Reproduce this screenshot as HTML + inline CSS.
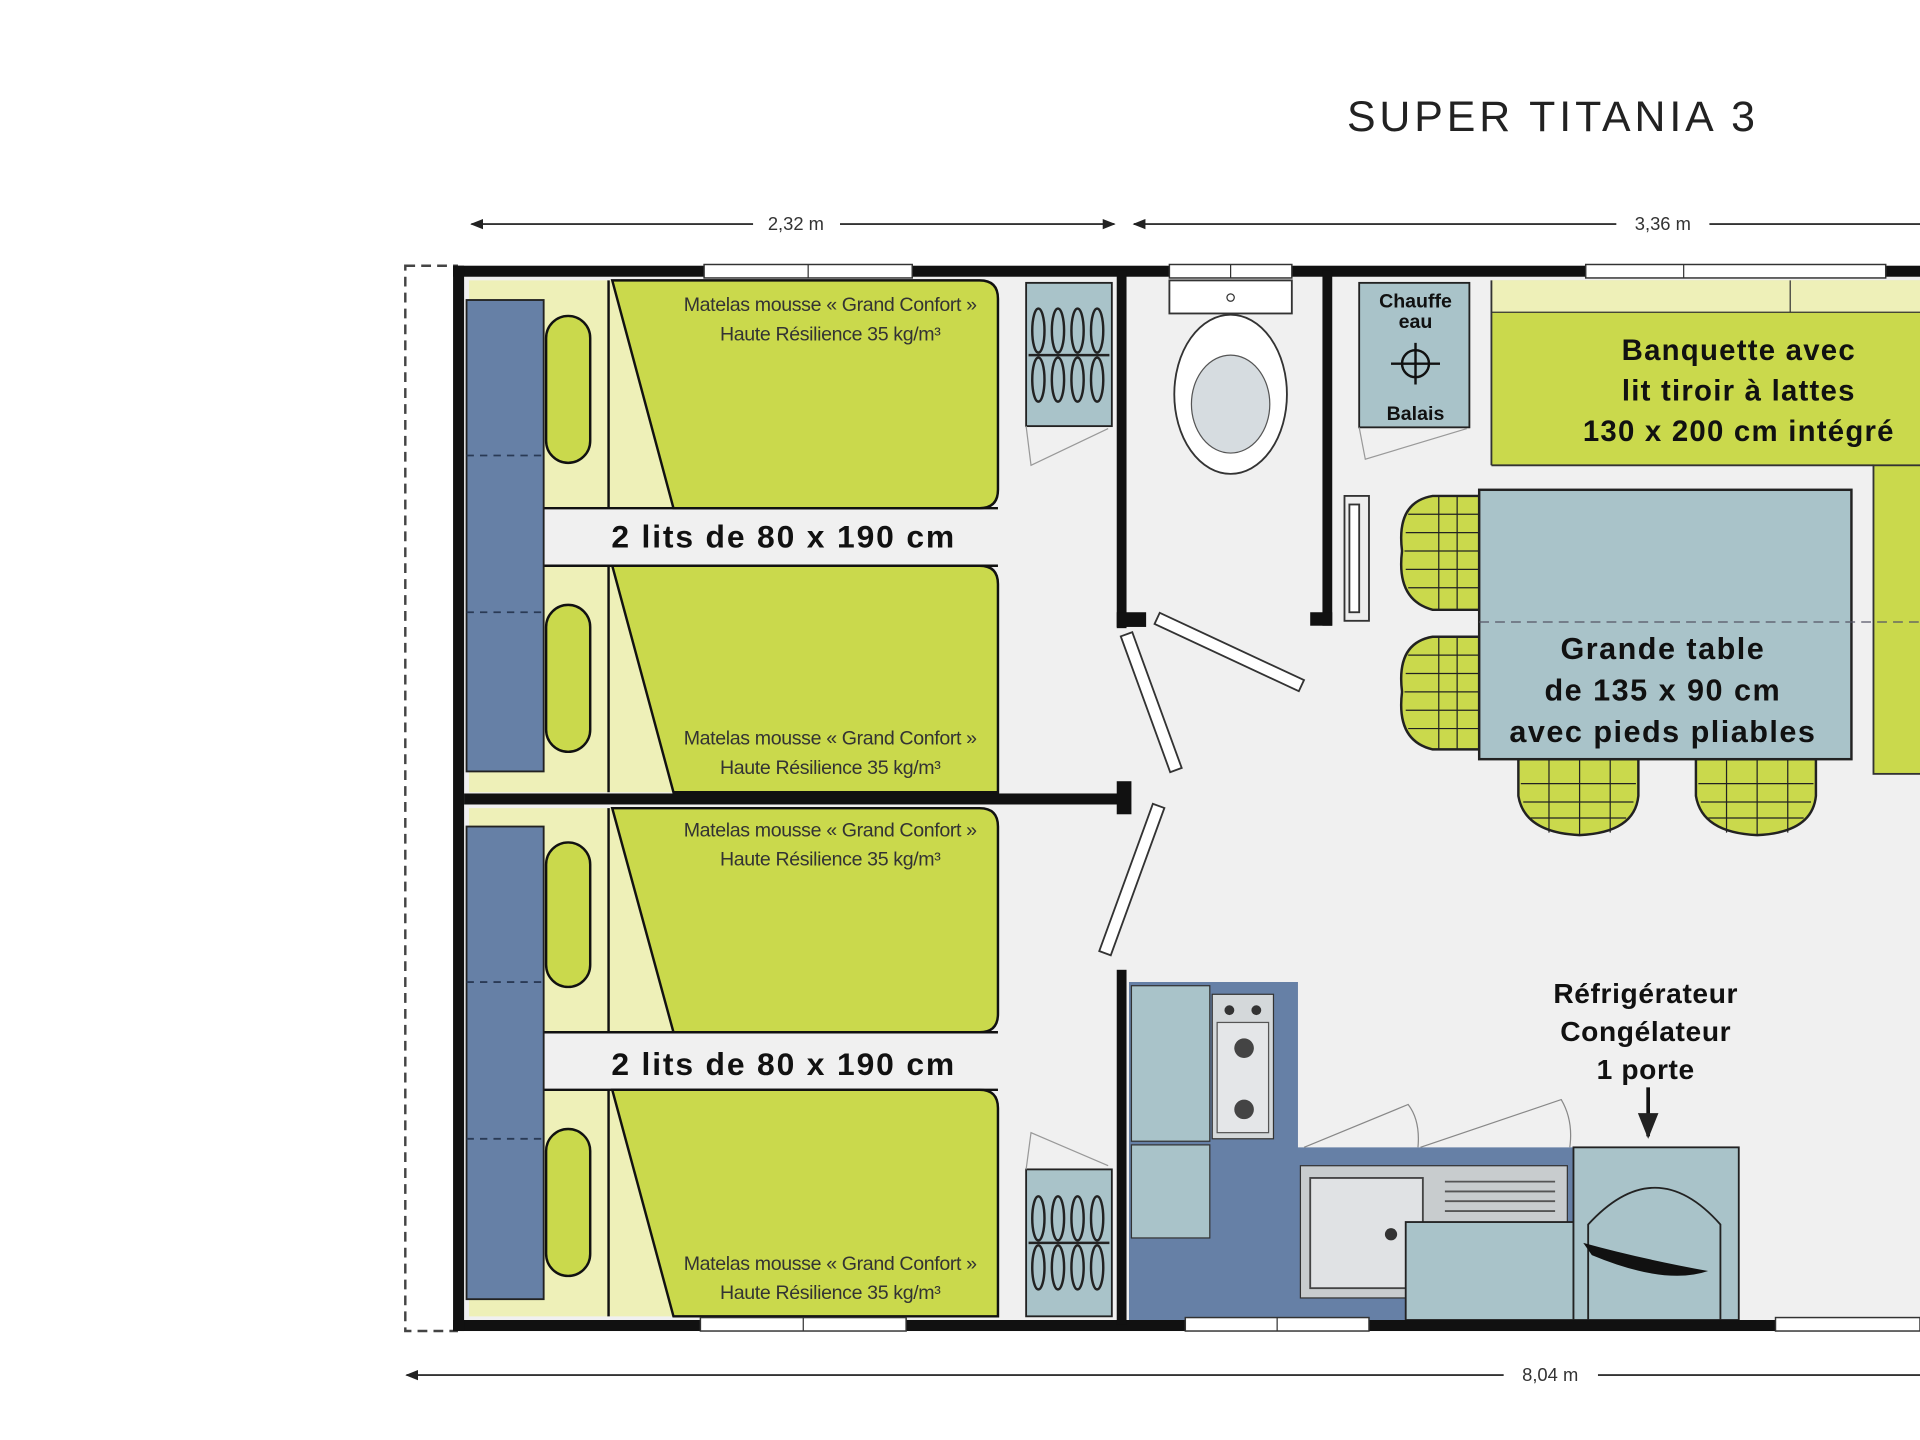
<!DOCTYPE html>
<html><head><meta charset="utf-8"><style>html,body{margin:0;padding:0;background:#fff}svg{display:block}</style></head><body>
<svg width="1920" height="1440" viewBox="0 0 1568 1176" xmlns="http://www.w3.org/2000/svg" font-family="Liberation Sans, sans-serif">
<defs>
<marker id="ar" viewBox="0 0 10 10" refX="9" refY="5" markerWidth="7" markerHeight="7" orient="auto-start-reverse"><path d="M0,1 L10,5 L0,9 Z" fill="#222"/></marker>
</defs>
<rect width="1568" height="1176" fill="#fff"/>
<text x="1100" y="107" font-size="35" fill="#222" letter-spacing="3.2">SUPER TITANIA 3</text>
<g stroke="#333" stroke-width="1.5">
<line x1="385" y1="183" x2="615" y2="183" marker-start="url(#ar)"/>
<line x1="686" y1="183" x2="910" y2="183" marker-end="url(#ar)"/>
<line x1="926" y1="183" x2="1320" y2="183" marker-start="url(#ar)"/>
<line x1="1396" y1="183" x2="1568" y2="183"/>
<line x1="332" y1="1123" x2="1228" y2="1123" marker-start="url(#ar)"/>
<line x1="1305" y1="1123" x2="1568" y2="1123"/>
</g>
<text x="650" y="188" font-size="15" text-anchor="middle" fill="#333">2,32 m</text>
<text x="1358" y="188" font-size="15" text-anchor="middle" fill="#333">3,36 m</text>
<text x="1266" y="1128" font-size="15" text-anchor="middle" fill="#333">8,04 m</text>
<rect x="331" y="217" width="42" height="870" fill="none" stroke="#444" stroke-width="2" stroke-dasharray="8,5"/>
<rect x="374" y="221" width="1194" height="861" fill="#f0f0f0"/>
<g>
<path d="M383 229 H800 Q815 229 815 244 V400 Q815 415 800 415 H383 Z" fill="#eef0b8"/>
<rect x="446" y="258" width="36" height="120" rx="18" fill="#cad94c" stroke="#111" stroke-width="2"/>
<line x1="497" y1="229" x2="497" y2="415" stroke="#111" stroke-width="2"/>
<path d="M500 229 H800 Q815 229 815 244 V400 Q815 415 800 415 H550 Z" fill="#cad94c" stroke="#111" stroke-width="2"/>
<line x1="444" y1="415" x2="815" y2="415" stroke="#111" stroke-width="2"/>
</g>
<g>
<path d="M383 462 H800 Q815 462 815 477 V647 H383 Z" fill="#eef0b8"/>
<rect x="446" y="494" width="36" height="120" rx="18" fill="#cad94c" stroke="#111" stroke-width="2"/>
<line x1="497" y1="462" x2="497" y2="647" stroke="#111" stroke-width="2"/>
<path d="M500 462 H800 Q815 462 815 477 V647 H550 Z" fill="#cad94c" stroke="#111" stroke-width="2"/>
<line x1="444" y1="462" x2="815" y2="462" stroke="#111" stroke-width="2"/>
</g>
<g>
<path d="M383 660 H800 Q815 660 815 675 V828 Q815 843 800 843 H383 Z" fill="#eef0b8"/>
<rect x="446" y="688" width="36" height="118" rx="18" fill="#cad94c" stroke="#111" stroke-width="2"/>
<line x1="497" y1="660" x2="497" y2="843" stroke="#111" stroke-width="2"/>
<path d="M500 660 H800 Q815 660 815 675 V828 Q815 843 800 843 H550 Z" fill="#cad94c" stroke="#111" stroke-width="2"/>
<line x1="444" y1="843" x2="815" y2="843" stroke="#111" stroke-width="2"/>
</g>
<g>
<path d="M383 890 H800 Q815 890 815 905 V1075 H383 Z" fill="#eef0b8"/>
<rect x="446" y="922" width="36" height="120" rx="18" fill="#cad94c" stroke="#111" stroke-width="2"/>
<line x1="497" y1="890" x2="497" y2="1075" stroke="#111" stroke-width="2"/>
<path d="M500 890 H800 Q815 890 815 905 V1075 H550 Z" fill="#cad94c" stroke="#111" stroke-width="2"/>
<line x1="444" y1="890" x2="815" y2="890" stroke="#111" stroke-width="2"/>
</g>
<rect x="381" y="245" width="63" height="385" fill="#6680a6" stroke="#222" stroke-width="1.5"/>
<rect x="381" y="675" width="63" height="386" fill="#6680a6" stroke="#222" stroke-width="1.5"/>
<g stroke="#2a3a55" stroke-width="1.5" stroke-dasharray="6,5">
<line x1="381" y1="372" x2="444" y2="372"/><line x1="381" y1="500" x2="444" y2="500"/>
<line x1="381" y1="802" x2="444" y2="802"/><line x1="381" y1="930" x2="444" y2="930"/>
</g>
<g font-size="16" fill="#333" text-anchor="middle" letter-spacing="-0.3">
<text x="678" y="254">Matelas mousse « Grand Confort »</text><text x="678" y="278">Haute Résilience 35 kg/m³</text>
<text x="678" y="608">Matelas mousse « Grand Confort »</text><text x="678" y="632">Haute Résilience 35 kg/m³</text>
<text x="678" y="683">Matelas mousse « Grand Confort »</text><text x="678" y="707">Haute Résilience 35 kg/m³</text>
<text x="678" y="1037">Matelas mousse « Grand Confort »</text><text x="678" y="1061">Haute Résilience 35 kg/m³</text>
</g>
<g font-size="26" font-weight="bold" fill="#111" text-anchor="middle" letter-spacing="1.5">
<text x="640" y="447">2 lits de 80 x 190 cm</text>
<text x="640" y="878">2 lits de 80 x 190 cm</text>
</g>
<g>
<rect x="838" y="231" width="70" height="117" fill="#a9c3c9" stroke="#222" stroke-width="1.5"/>
<path d="M838 348 L842 380 L905 350" fill="none" stroke="#999" stroke-width="1"/>
<rect x="838" y="955" width="70" height="120" fill="#a9c3c9" stroke="#222" stroke-width="1.5"/>
<path d="M838 955 L842 925 L905 952" fill="none" stroke="#999" stroke-width="1"/>
<g fill="none" stroke="#222" stroke-width="2">
<line x1="840" y1="290" x2="906" y2="290"/>
<ellipse cx="848" cy="270" rx="5" ry="18"/><ellipse cx="864" cy="270" rx="5" ry="18"/><ellipse cx="880" cy="270" rx="5" ry="18"/><ellipse cx="896" cy="270" rx="5" ry="18"/>
<ellipse cx="848" cy="310" rx="5" ry="18"/><ellipse cx="864" cy="310" rx="5" ry="18"/><ellipse cx="880" cy="310" rx="5" ry="18"/><ellipse cx="896" cy="310" rx="5" ry="18"/>
<line x1="840" y1="1015" x2="906" y2="1015"/>
<ellipse cx="848" cy="995" rx="5" ry="18"/><ellipse cx="864" cy="995" rx="5" ry="18"/><ellipse cx="880" cy="995" rx="5" ry="18"/><ellipse cx="896" cy="995" rx="5" ry="18"/>
<ellipse cx="848" cy="1035" rx="5" ry="18"/><ellipse cx="864" cy="1035" rx="5" ry="18"/><ellipse cx="880" cy="1035" rx="5" ry="18"/><ellipse cx="896" cy="1035" rx="5" ry="18"/>
</g></g>
<rect x="955" y="229" width="100" height="27" fill="#fff" stroke="#333" stroke-width="1.5"/>
<circle cx="1005" cy="243" r="3" fill="none" stroke="#333"/>
<ellipse cx="1005" cy="322" rx="46" ry="65" fill="#fff" stroke="#333" stroke-width="1.5"/>
<ellipse cx="1005" cy="330" rx="32" ry="40" fill="#d6dce0" stroke="#555" stroke-width="1"/>
<rect x="1110" y="231" width="90" height="118" fill="#a9c3c9" stroke="#222" stroke-width="1.5"/>
<path d="M1110 349 L1115 375 L1198 350" fill="none" stroke="#999" stroke-width="1"/>
<text x="1156" y="251" font-size="16" font-weight="bold" text-anchor="middle" fill="#111">Chauffe</text>
<text x="1156" y="268" font-size="16" font-weight="bold" text-anchor="middle" fill="#111">eau</text>
<text x="1156" y="343" font-size="16" font-weight="bold" text-anchor="middle" fill="#111">Balais</text>
<circle cx="1156" cy="297" r="11" fill="none" stroke="#111" stroke-width="2"/>
<line x1="1136" y1="297" x2="1176" y2="297" stroke="#111" stroke-width="2"/><line x1="1156" y1="280" x2="1156" y2="314" stroke="#111" stroke-width="2"/>
<rect x="1218" y="229" width="360" height="151" fill="#cad94c"/>
<rect x="1218" y="229" width="360" height="26" fill="#eef0b8"/>
<line x1="1218" y1="255" x2="1568" y2="255" stroke="#333" stroke-width="1"/>
<line x1="1462" y1="229" x2="1462" y2="255" stroke="#333" stroke-width="1"/>
<line x1="1218" y1="229" x2="1218" y2="380" stroke="#333" stroke-width="1.5"/>
<line x1="1218" y1="380" x2="1530" y2="380" stroke="#333" stroke-width="1.5"/>
<rect x="1530" y="380" width="45" height="252" fill="#cad94c" stroke="#333" stroke-width="1.5"/>
<g font-size="24" font-weight="bold" fill="#111" text-anchor="middle" letter-spacing="1">
<text x="1420" y="294">Banquette avec</text><text x="1420" y="327">lit tiroir à lattes</text><text x="1420" y="360">130 x 200 cm intégré</text>
</g>
<g fill="#cad94c" stroke="#222" stroke-width="2">
<path d="M1208 405 H1170 Q1140 410 1145 450 Q1140 490 1170 498 H1208 Z"/>
<path d="M1208 520 H1170 Q1140 525 1145 565 Q1140 605 1170 612 H1208 Z"/>
<path d="M1240 620 V650 Q1245 680 1290 682 Q1335 680 1338 650 V620 Z"/>
<path d="M1385 620 V650 Q1390 680 1435 682 Q1480 680 1483 650 V620 Z"/>
</g>
<g stroke="#222" stroke-width="1" fill="none">
<path d="M1150 420 H1208 M1148 435 H1208 M1147 450 H1208 M1148 465 H1208 M1150 480 H1208 M1175 405 V498 M1190 405 V498"/>
<path d="M1150 535 H1208 M1148 550 H1208 M1147 565 H1208 M1148 580 H1208 M1150 595 H1208 M1175 520 V612 M1190 520 V612"/>
<path d="M1242 640 H1336 M1244 655 H1334 M1250 668 H1328 M1265 620 V680 M1290 620 V682 M1315 620 V680"/>
<path d="M1387 640 H1481 M1389 655 H1479 M1395 668 H1473 M1410 620 V680 M1435 620 V682 M1460 620 V680"/>
</g>
<rect x="1208" y="400" width="304" height="220" fill="#a9c3c9" stroke="#222" stroke-width="2"/>
<line x1="1208" y1="508" x2="1568" y2="508" stroke="#556" stroke-width="1" stroke-dasharray="8,5"/>
<g font-size="25" font-weight="bold" fill="#111" text-anchor="middle" letter-spacing="1.2">
<text x="1358" y="538">Grande table</text><text x="1358" y="572">de 135 x 90 cm</text><text x="1358" y="606">avec pieds pliables</text>
</g>
<path d="M922 802 H1060 V937 H1420 V1078 H922 Z" fill="#6680a6"/>
<rect x="924" y="805" width="64" height="127" fill="#a9c3c9" stroke="#333" stroke-width="1"/>
<rect x="924" y="935" width="64" height="76" fill="#a9c3c9" stroke="#333" stroke-width="1"/>
<rect x="990" y="812" width="50" height="118" fill="#d4d8da" stroke="#333" stroke-width="1"/>
<circle cx="1004" cy="825" r="4" fill="#333"/><circle cx="1026" cy="825" r="4" fill="#333"/>
<rect x="994" y="835" width="42" height="90" fill="#e4e6e8" stroke="#555"/>
<circle cx="1016" cy="856" r="8" fill="#444"/><circle cx="1016" cy="906" r="8" fill="#444"/>
<rect x="1062" y="952" width="218" height="108" fill="#c8ccce" stroke="#333" stroke-width="1"/>
<rect x="1070" y="962" width="92" height="90" fill="#e0e2e4" stroke="#444" stroke-width="1.5"/>
<circle cx="1136" cy="1008" r="5" fill="#333"/>
<g stroke="#555" stroke-width="1.5"><line x1="1180" y1="965" x2="1270" y2="965"/><line x1="1180" y1="973" x2="1270" y2="973"/><line x1="1180" y1="981" x2="1270" y2="981"/><line x1="1180" y1="989" x2="1270" y2="989"/></g>
<rect x="1148" y="998" width="137" height="80" fill="#a9c3c9" stroke="#222" stroke-width="1.5"/>
<rect x="1285" y="937" width="135" height="141" fill="#a9c3c9" stroke="#222" stroke-width="1.5"/>
<path d="M1297 1078 V1000 Q1352 940 1405 1000 V1078" fill="none" stroke="#222" stroke-width="1.5"/>
<path d="M1293 1015 Q1340 1028 1395 1038 Q1360 1050 1300 1025 Z" fill="#111"/>
<path d="M1065 937 L1150 902 Q1160 915 1158 937 M1160 937 L1275 898 Q1285 915 1282 937" fill="none" stroke="#888" stroke-width="1"/>
<g font-size="23" font-weight="bold" fill="#111" text-anchor="middle" letter-spacing="0.5">
<text x="1344" y="819">Réfrigérateur</text><text x="1344" y="850">Congélateur</text><text x="1344" y="881">1 porte</text>
</g>
<line x1="1346" y1="888" x2="1346" y2="928" stroke="#111" stroke-width="3" marker-end="url(#ar)"/>
<g fill="#fff" stroke="#333" stroke-width="1.5">
<rect x="915" y="518" width="10" height="118" transform="rotate(-20 920 518)"/>
<rect x="940" y="505" width="10" height="130" transform="rotate(-65 945 505)"/>
<rect x="940" y="665" width="10" height="128" transform="rotate(20 965 665)"/>
<rect x="1098" y="405" width="20" height="102" fill="#eee"/>
<rect x="1102" y="412" width="8" height="88" fill="#fff"/>
</g>
<g fill="#111">
<rect x="370" y="217" width="1198" height="9"/>
<rect x="370" y="1078" width="1198" height="9"/>
<rect x="370" y="217" width="9" height="870"/>
<rect x="912" y="221" width="8" height="292"/>
<rect x="912" y="500" width="24" height="12"/>
<rect x="379" y="648" width="538" height="9"/>
<rect x="912" y="638" width="12" height="27"/>
<rect x="912" y="792" width="8" height="290"/>
<rect x="1080" y="221" width="8" height="290"/>
<rect x="1070" y="500" width="18" height="11"/>
</g>
<g fill="#fff" stroke="#333" stroke-width="1.2">
<rect x="575" y="216" width="170" height="11"/><rect x="955" y="216" width="100" height="11"/><rect x="1295" y="216" width="245" height="11"/>
<rect x="572" y="1076" width="168" height="11"/><rect x="968" y="1076" width="150" height="11"/><rect x="1450" y="1076" width="118" height="11"/>
</g>
<g stroke="#333" stroke-width="1"><line x1="660" y1="216" x2="660" y2="227"/><line x1="1005" y1="216" x2="1005" y2="227"/><line x1="1375" y1="216" x2="1375" y2="227"/><line x1="656" y1="1076" x2="656" y2="1087"/><line x1="1043" y1="1076" x2="1043" y2="1087"/></g>
</svg>
</body></html>
